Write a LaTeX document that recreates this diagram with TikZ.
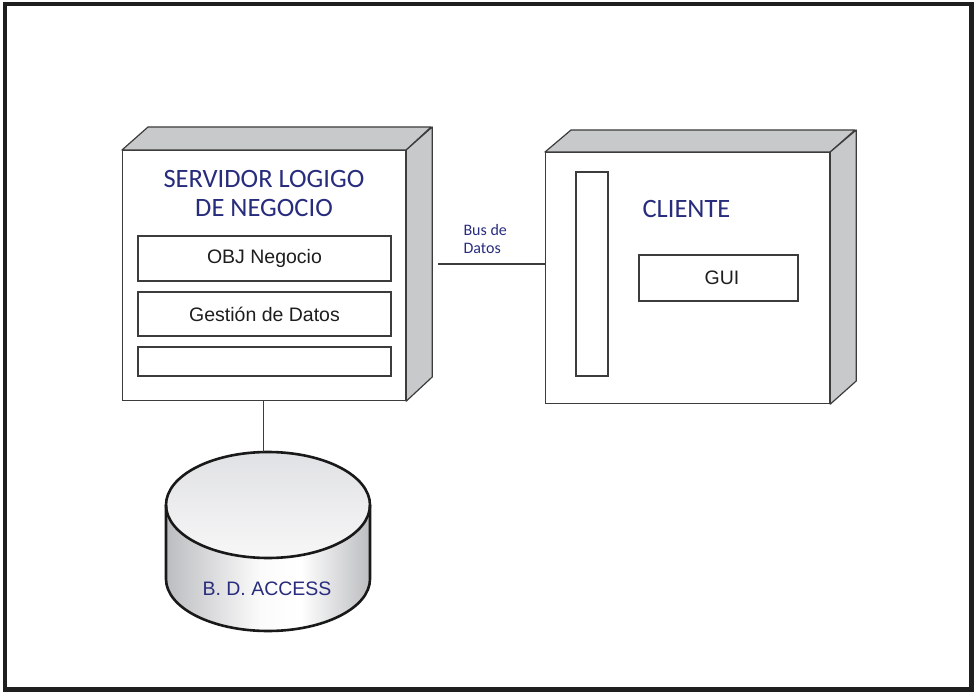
\documentclass[tikz,border=0pt]{standalone}
\usepackage{fontspec}
\setmainfont{Liberation Sans}
\newfontfamily\arialish{Liberation Sans}
\newfontfamily\calib{Carlito}
\definecolor{navy}{RGB}{40,44,125}
\definecolor{edgegray}{RGB}{60,60,60}
\definecolor{facegray}{RGB}{200,201,203}
\definecolor{cylgray}{RGB}{188,189,192}
\definecolor{captop}{RGB}{224,225,228}
\definecolor{inktext}{RGB}{30,30,30}
% side of the database drum: grey edges, white sheen a little right of centre
\pgfdeclarehorizontalshading{drumside}{100bp}{color(0bp)=(cylgray); color(25bp)=(cylgray);
  color(48bp)=(white!94!cylgray); color(58bp)=(white); color(75bp)=(cylgray); color(100bp)=(cylgray)}
\begin{document}
\begin{tikzpicture}[x=1pt,y=-1pt,
  frontface/.style={draw=edgegray, fill=white, line width=1.2pt, inner sep=0pt, anchor=north west},
  depthface/.style={draw=edgegray, fill=facegray, line width=1.2pt, line join=round},
  partbox/.style={draw=edgegray, fill=white, line width=1.2pt, inner sep=0pt,
    text=inktext, font=\arialish\fontsize{19.5}{23}\selectfont},
  nodetitle/.style={text=navy, font=\calib\fontsize{26.5}{29}\selectfont, align=center},
  wire/.style={draw=edgegray, line width=1.3pt}]
\useasboundingbox (0,0) rectangle (974,692);
\draw[line width=4.5pt, draw=black!88] (5,4) rectangle (971.5,689.5);

% --- application server (3D box) ---
\node[frontface, minimum width=283, minimum height=250] (srv) at (122,150) {};
\draw[depthface] (srv.north west) -- ++(26,-23) -- ++(283,0) -- (srv.north east) -- cycle;
\draw[depthface] (srv.north east) -- ++(26,-23) -- ++(0,250) -- (srv.south east) -- cycle;
\node[nodetitle] (srvtitle) at (264,193) {SERVIDOR LOGIGO\\DE NEGOCIO};
\node[partbox, minimum width=253, minimum height=45] (obj) at (264.5,258.5) {OBJ Negocio};
\node[partbox, minimum width=253, minimum height=44] (gest) at (264.5,314) {Gestión de Datos};
\node[partbox, minimum width=253, minimum height=29] (spare) at (264.5,361.5) {};

% --- client (3D box) ---
\node[frontface, minimum width=284, minimum height=251] (cli) at (545,152) {};
\draw[depthface] (cli.north west) -- ++(26,-22) -- ++(284,0) -- (cli.north east) -- cycle;
\draw[depthface] (cli.north east) -- ++(26,-22) -- ++(0,251) -- (cli.south east) -- cycle;
\node[partbox, minimum width=32, minimum height=204] (bar) at (592,274) {};
\node[nodetitle] (clititle) at (686.5,209) {CLIENTE};
\node[partbox, minimum width=159, minimum height=46] (gui) at (718.5,278) {\hspace*{7pt}GUI};

% --- data bus ---
\coordinate (busstart) at (438,264);
\draw[wire] (busstart) -- (busstart -| cli.west);
\node[text=navy, font=\calib\fontsize{16}{18.5}\selectfont, align=left, anchor=west] (buslabel)
  at (460,239) {Bus de\\Datos};

% --- database cylinder ---
\coordinate (dbtop) at (263.5,452);
\path[shading=drumside]
  (166,505) -- (166,579) arc[start angle=180, end angle=0, x radius=102, y radius=52]
  -- (370,505) arc[start angle=0, end angle=180, x radius=102, y radius=53] -- cycle;
\shade[top color=captop, bottom color=white!97!black]
  (268,505) ellipse[x radius=102, y radius=53];
\draw[line width=2.6pt, black!90]
  (166,505) -- (166,579) arc[start angle=180, end angle=0, x radius=102, y radius=52]
  -- (370,505);
\draw[line width=2.6pt, black!90] (268,505) ellipse[x radius=102, y radius=53];
\node[text=navy, font=\arialish\fontsize{19.5}{23}\selectfont] (db) at (267,589) {B. D. ACCESS};
\draw[wire] (srv.south -| dbtop) -- (dbtop);
\end{tikzpicture}
\end{document}
